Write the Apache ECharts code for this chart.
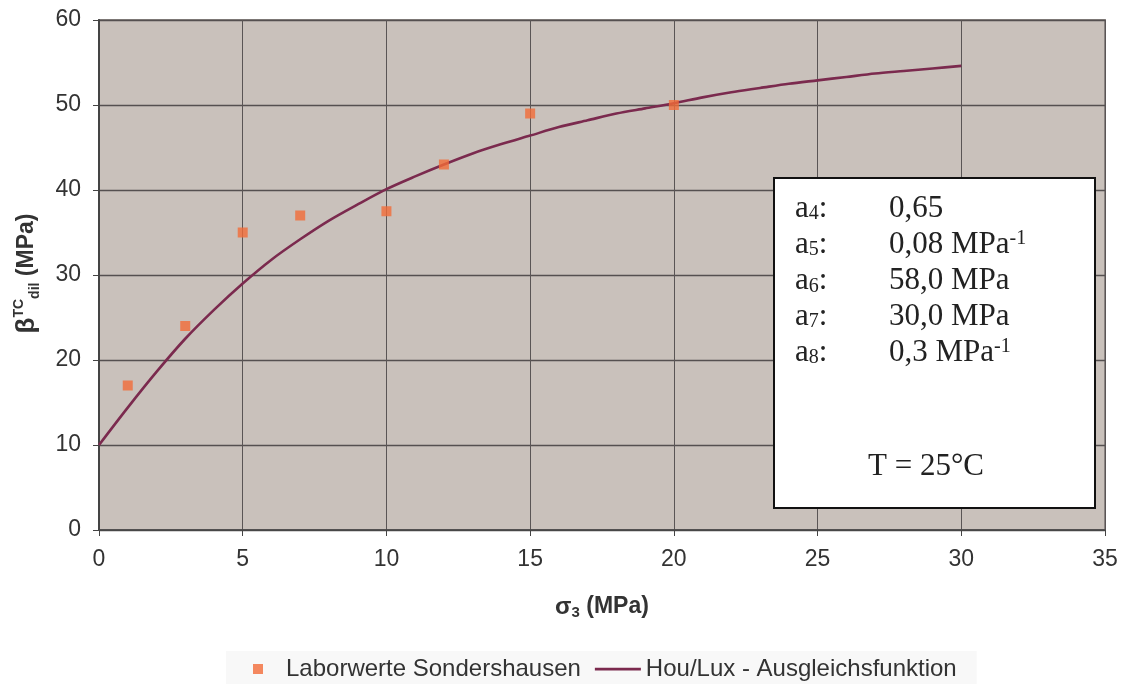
<!DOCTYPE html>
<html>
<head>
<meta charset="utf-8">
<script src="https://cdn.jsdelivr.net/npm/echarts@6/dist/echarts.min.js"></script>
<style>
  html, body { margin: 0; padding: 0; background: #ffffff; }
  #chart { width: 1126px; height: 684px; }
</style>
</head>
<body>
<div id="chart"></div>
<script>
// Laboratory values (σ3 in MPa, β in MPa)
const sigmaLab = [1, 3, 5, 7, 10, 12, 15, 20];
const betaLab = [17, 24, 35, 37, 37.5, 43, 49, 50];

// Fitted curve (Hou/Lux)
const sigmaFit = [0, 1, 2, 3, 4, 5, 6, 7, 8, 9, 10, 11, 12, 13, 14, 15, 16, 17, 18, 19, 20,
                  21, 22, 23, 24, 25, 26, 27, 28, 29, 30];
const betaFit = [10.0, 14.4, 18.6, 22.5, 25.9, 29.0, 31.8, 34.2, 36.4, 38.3, 40.1, 41.6, 43.0,
                 44.3, 45.4, 46.4, 47.4, 48.2, 49.0, 49.6, 50.2, 50.9, 51.5, 52.0, 52.5, 52.9,
                 53.3, 53.7, 54.0, 54.3, 54.6];

// Fit parameters shown in the box
const paramSubs = ['4', '5', '6', '7', '8'];
const paramValues = ['0,65', '0,08 MPa', '58,0 MPa', '30,0 MPa', '0,3 MPa'];
const paramSups = ['', '-1', '', '', '-1'];
const tempLabel = 'T = 25°C';

const xTicks = { min: 0, max: 35, interval: 5 };
const yTicks = { min: 0, max: 60, interval: 10 };

const seriesNames = ['Laborwerte Sondershausen', 'Hou/Lux - Ausgleichsfunktion'];

const SANS = 'Liberation Sans, Arial, sans-serif';
const SERIF = 'Liberation Serif, Times New Roman, serif';

const POINT_COLOR = '#f26c38';
const CURVE_COLOR = '#7b2a4e';

// legend glyphs: a small square and a plain line, both inside a 46x10 box
const squareIcon = 'path://M0,0M46,10M18,0h10v10h-10z';
const lineIcon = 'path://M0,0M46,10M0,3.8h46v2.6h-46z';

const chart = echarts.init(document.getElementById('chart'), null, { renderer: 'canvas' });

// parameter rows inside the box
const rowY = [208.5, 244.5, 281, 316.5, 352.5];
const boxTexts = [];
paramSubs.forEach((s, i) => {
  boxTexts.push({
    type: 'text', x: 795, y: rowY[i], z: 20,
    style: {
      text: '{a|a}{s|' + s + '}{a|:}',
      align: 'left', verticalAlign: 'middle',
      textAlign: 'left', textVerticalAlign: 'middle',
      rich: {
        a: { fontFamily: SERIF, fontSize: 31, lineHeight: 31, fill: '#222' },
        s: { fontFamily: SERIF, fontSize: 20, lineHeight: 18, verticalAlign: 'bottom', fill: '#222' }
      }
    }
  });
  boxTexts.push({
    type: 'text', x: 889, y: rowY[i], z: 20,
    style: {
      text: '{v|' + paramValues[i] + '}' + (paramSups[i] ? '{p|' + paramSups[i] + '}' : ''),
      align: 'left', verticalAlign: 'middle',
      textAlign: 'left', textVerticalAlign: 'middle',
      rich: {
        v: { fontFamily: SERIF, fontSize: 31, lineHeight: 31, fill: '#222' },
        p: { fontFamily: SERIF, fontSize: 20, lineHeight: 20, verticalAlign: 'top', fill: '#222' }
      }
    }
  });
});

const option = {
  animation: false,
  backgroundColor: '#ffffff',
  textStyle: { fontFamily: SANS },
  grid: {
    left: 99, right: 21, top: 20, bottom: 154,
    show: true,
    backgroundColor: '#c9c1bb',
    borderColor: '#8a8482',
    borderWidth: 2
  },
  xAxis: {
    type: 'value',
    min: xTicks.min, max: xTicks.max, interval: xTicks.interval,
    axisLine: { show: true, onZero: false, lineStyle: { color: '#444', width: 1.5 } },
    axisTick: { show: true, length: 6, lineStyle: { color: '#444' } },
    axisLabel: { margin: 18, fontSize: 23, color: '#333', fontFamily: SANS },
    splitLine: { show: true, lineStyle: { color: '#5a5555', width: 1 } }
  },
  yAxis: {
    type: 'value',
    min: yTicks.min, max: yTicks.max, interval: yTicks.interval,
    axisLine: { show: true, onZero: false, lineStyle: { color: '#444', width: 2 } },
    axisTick: { show: true, length: 6, lineStyle: { color: '#444' } },
    axisLabel: { margin: 18, fontSize: 23, color: '#333', fontFamily: SANS },
    splitLine: { show: true, lineStyle: { color: '#555050', width: 1.3 } }
  },
  legend: {
    left: 226, top: 651,
    padding: [6, 20, 8, 9],
    backgroundColor: '#f8f8f8',
    itemWidth: 46, itemHeight: 10, itemGap: 14,
    textStyle: { fontSize: 24, color: '#333', fontFamily: SANS },
    data: [
      { name: seriesNames[0], icon: squareIcon },
      { name: seriesNames[1], icon: lineIcon }
    ]
  },
  series: [
    {
      name: seriesNames[0],
      type: 'scatter',
      symbol: 'rect',
      symbolSize: 10,
      itemStyle: { color: POINT_COLOR },
      data: sigmaLab.map((x, i) => [x, betaLab[i]]),
      z: 5
    },
    {
      name: seriesNames[1],
      type: 'line',
      symbol: 'none',
      smooth: 0.3,
      lineStyle: { color: CURVE_COLOR, width: 2.6 },
      itemStyle: { color: CURVE_COLOR },
      data: sigmaFit.map((x, i) => [x, betaFit[i]]),
      z: 4
    }
  ],
  graphic: [
    {
      type: 'rect', z: 10,
      shape: { x: 774, y: 178, width: 321, height: 330 },
      style: { fill: '#ffffff', stroke: '#111', lineWidth: 2 }
    },
    ...boxTexts,
    {
      type: 'text', x: 926, y: 466.5, z: 20,
      style: {
        text: tempLabel, fontFamily: SERIF, fontSize: 31, fill: '#222',
        align: 'center', verticalAlign: 'middle',
        textAlign: 'center', textVerticalAlign: 'middle'
      }
    },
    {
      // y axis title, rotated
      type: 'text', x: 27, y: 273.5, rotation: Math.PI / 2, z: 20,
      style: {
        text: '{b|β}{t|TC}{d|dil}{m| (MPa)}',
        align: 'center', verticalAlign: 'middle',
        textAlign: 'center', textVerticalAlign: 'middle',
        rich: {
          b: { fontFamily: SANS, fontWeight: 'bold', fontSize: 26, lineHeight: 30, fill: '#333' },
          t: { fontFamily: SANS, fontWeight: 'bold', fontSize: 14, lineHeight: 16, verticalAlign: 'top', fill: '#333' },
          d: { fontFamily: SANS, fontWeight: 'bold', fontSize: 14, lineHeight: 14, verticalAlign: 'bottom', fill: '#333' },
          m: { fontFamily: SANS, fontWeight: 'bold', fontSize: 23, lineHeight: 30, fill: '#333' }
        }
      }
    },
    {
      // x axis title
      type: 'text', x: 602, y: 607, z: 20,
      style: {
        text: '{s|σ}{n|3}{m| (MPa)}',
        align: 'center', verticalAlign: 'middle',
        textAlign: 'center', textVerticalAlign: 'middle',
        rich: {
          s: { fontFamily: SANS, fontWeight: 'bold', fontSize: 24, lineHeight: 26, fill: '#333' },
          n: { fontFamily: SANS, fontWeight: 'bold', fontSize: 15, lineHeight: 14, verticalAlign: 'bottom', fill: '#333' },
          m: { fontFamily: SANS, fontWeight: 'bold', fontSize: 23, lineHeight: 26, fill: '#333' }
        }
      }
    }
  ]
};

chart.setOption(option);
</script>
</body>
</html>
